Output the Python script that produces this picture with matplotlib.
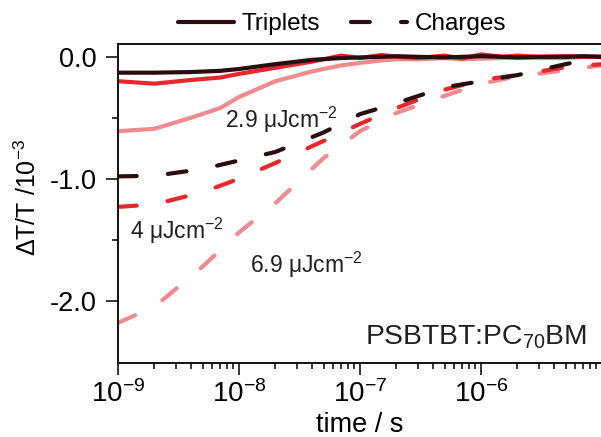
import matplotlib
matplotlib.use("Agg")
import matplotlib.pyplot as plt
import numpy as np

plt.rcParams['font.family'] = ['Liberation Sans', 'DejaVu Sans']
plt.rcParams['mathtext.fontset'] = 'custom'
plt.rcParams['mathtext.rm'] = 'Liberation Sans'
plt.rcParams['mathtext.it'] = 'Liberation Sans:italic'
plt.rcParams['mathtext.bf'] = 'Liberation Sans:bold'
plt.rcParams['axes.unicode_minus'] = False

# triplet kinetics (solid)
t_trip = [1e-9, 2e-9, 4e-9, 7e-9, 1e-8, 2e-8, 4e-8, 7e-8, 1e-7, 1.5e-7, 2e-7,
          3e-7, 5e-7, 7e-7, 1e-6, 1.5e-6, 2e-6, 3e-6, 5e-6, 7e-6, 1e-5]
trip_29 = [-0.13, -0.13, -0.125, -0.115, -0.10, -0.06, -0.025, -0.01, -0.005, 0.0, 0.005,
           0.0, -0.005, 0.0, 0.005, 0.0, -0.005, 0.0, 0.0, 0.005, 0.0]
trip_4 = [-0.20, -0.22, -0.19, -0.17, -0.14, -0.09, -0.04, 0.01, -0.01, 0.015, 0.0,
          -0.01, 0.01, -0.015, 0.02, 0.0, 0.01, 0.0, 0.005, 0.0, 0.0]
trip_69 = [-0.61, -0.59, -0.50, -0.42, -0.33, -0.20, -0.12, -0.07, -0.05, -0.03, -0.02,
           -0.02, -0.01, -0.02, -0.015, -0.01, -0.01, -0.01, -0.01, 0.0, 0.0]

# charge kinetics (dashed)
t_chg = [1e-9, 2e-9, 5e-9, 1e-8, 2e-8, 5e-8, 1e-7, 2e-7, 5e-7, 1e-6, 2e-6, 5e-6, 1e-5]
chg_29 = [-0.98, -0.975, -0.92, -0.85, -0.78, -0.62, -0.47, -0.38, -0.25, -0.20, -0.15, -0.06, 0.0]
chg_4 = [-1.23, -1.21, -1.11, -1.00, -0.87, -0.69, -0.55, -0.42, -0.27, -0.19, -0.15, -0.085, -0.06]
chg_69 = [-2.18, -2.05, -1.72, -1.44, -1.20, -0.83, -0.61, -0.46, -0.32, -0.22, -0.16, -0.11, -0.07]

fluences = ['2.9', '4', '6.9']
colors = ['#2b0d10', '#e9262c', '#f08a8e']
label_pos = [(7.65e-9, -0.582), (1.26e-9, -1.49), (1.23e-8, -1.77)]

fig = plt.figure(figsize=(6.01, 4.37), dpi=100)
ax = fig.add_axes([0.1963, 0.1693, 0.8053, 0.730])

lw = 3.0
dash = (4.5, 7.5)
for trip, chg, c, i in zip([trip_29, trip_4, trip_69], [chg_29, chg_4, chg_69], colors, range(3)):
    ax.plot(t_trip, trip, '-', color=c, lw=lw, solid_capstyle='round',
            label='Triplets' if i == 0 else None, zorder=3 - i)
    ax.plot(t_chg, chg, '--', color=c, lw=lw, dashes=dash, dash_capstyle='round',
            label='Charges' if i == 0 else None, zorder=3 - i)

for f, (x, y) in zip(fluences, label_pos):
    ax.text(x, y, f + ' \u03bcJcm$^{-2}$', fontsize=16.5, ha='left', va='baseline', color='#231f20')

ax.text(1.1e-7, -2.36, 'PSBTBT:PC$_{70}$BM', fontsize=20.3, ha='left', va='baseline', color='#231f20')

ax.set_xscale('log')
ax.set_xlim(1e-9, 1e-5)
ax.set_ylim(-2.51, 0.105)
ax.set_xticks([1e-9, 1e-8, 1e-7, 1e-6])
ax.set_yticks([0.0, -1.0, -2.0])
ax.set_yticklabels(['0.0', '-1.0', '-2.0'])
ax.set_yticks([-0.5, -1.5], minor=True)

ax.tick_params(axis='both', which='major', direction='out', length=8.5, width=1.1, pad=4)
ax.tick_params(axis='both', which='minor', direction='out', length=4, width=1.1)
ax.tick_params(axis='x', labelsize=20)
ax.tick_params(axis='y', labelsize=19.5, pad=7)
ax.tick_params(top=False, right=False, which='both')
for s in ['left', 'bottom', 'top']:
    ax.spines[s].set_linewidth(1.3)
ax.spines['right'].set_visible(False)

ax.set_xlabel('time / s', fontsize=19.5, labelpad=3)
ax.set_ylabel('\u0394T/T /10$^{-3}$', fontsize=18)
ax.yaxis.set_label_coords(-0.16, 0.52)

ax.legend(loc='center', bbox_to_anchor=(0.569, 0.945), bbox_transform=fig.transFigure,
          ncol=2, frameon=False, fontsize=17.5, handlelength=2.3, handletextpad=0.3,
          columnspacing=1.3)

fig.savefig('out.png', dpi=100)
